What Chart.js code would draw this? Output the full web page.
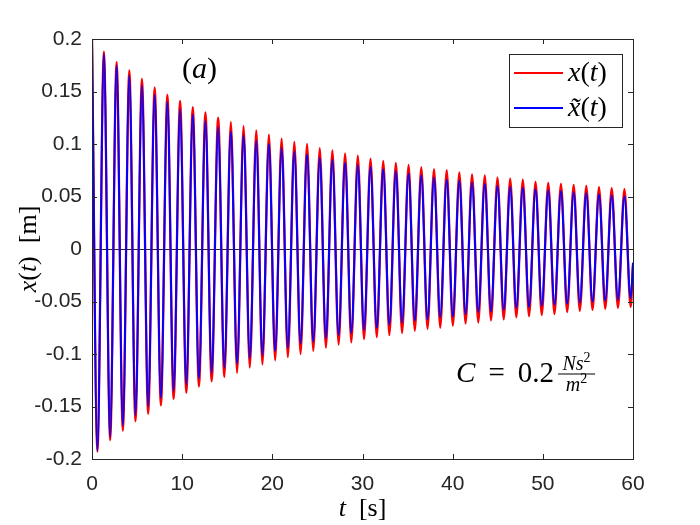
<!DOCTYPE html>
<html>
<head>
<meta charset="utf-8">
<script src="https://cdn.jsdelivr.net/npm/chart.js@4.4.1/dist/chart.umd.min.js"></script>
<style>
html, body { margin: 0; padding: 0; background: #fff; }
</style>
</head>
<body>
<canvas id="response-chart" width="700" height="525"></canvas>
<script>
// extrema (t in s, x in m)
let startTime = 0;
let startValue = 0.2;
let endTime = 60;
let endRed = -0.016;
let endBlue = -0.013;

let troughTimes = [0.60, 2.01, 3.42, 4.82, 6.23, 7.64, 9.05, 10.46, 11.86, 13.27, 14.68, 16.09, 17.50, 18.90, 20.31,
    21.72, 23.13, 24.54, 25.94, 27.35, 28.76, 30.17, 31.58, 32.98, 34.39, 35.80, 37.21, 38.62, 40.02, 41.43,
    42.84, 44.25, 45.66, 47.06, 48.47, 49.88, 51.29, 52.70, 54.10, 55.51, 56.92, 58.33, 59.74];
let peakTimes = [1.32, 2.73, 4.14, 5.54, 6.95, 8.36, 9.77, 11.18, 12.58, 13.99, 15.40, 16.81, 18.22, 19.62, 21.03,
    22.44, 23.85, 25.26, 26.66, 28.07, 29.48, 30.89, 32.30, 33.70, 35.11, 36.52, 37.93, 39.34, 40.74, 42.15,
    43.56, 44.97, 46.38, 47.78, 49.19, 50.60, 52.01, 53.42, 54.82, 56.23, 57.64, 59.05];

let redTroughs = [-0.193, -0.182, -0.173, -0.164, -0.157, -0.149, -0.143, -0.137, -0.131, -0.126, -0.122, -0.118, -0.113, -0.110, -0.106,
    -0.103, -0.100, -0.097, -0.094, -0.091, -0.089, -0.086, -0.084, -0.082, -0.080, -0.078, -0.076, -0.075, -0.073, -0.071,
    -0.070, -0.068, -0.067, -0.065, -0.064, -0.063, -0.062, -0.060, -0.059, -0.058, -0.057, -0.056, -0.055];
let redPeaks = [0.188, 0.178, 0.170, 0.162, 0.154, 0.147, 0.141, 0.135, 0.130, 0.125, 0.121, 0.117, 0.113, 0.109, 0.105,
    0.102, 0.100, 0.096, 0.094, 0.091, 0.089, 0.086, 0.084, 0.082, 0.080, 0.078, 0.076, 0.075, 0.073, 0.071,
    0.070, 0.068, 0.067, 0.066, 0.064, 0.063, 0.062, 0.061, 0.060, 0.059, 0.058, 0.057];

let blueTroughs = [-0.192, -0.179, -0.168, -0.158, -0.150, -0.142, -0.135, -0.129, -0.123, -0.118, -0.113, -0.109, -0.104, -0.101, -0.097,
    -0.094, -0.090, -0.088, -0.085, -0.082, -0.080, -0.077, -0.075, -0.072, -0.070, -0.068, -0.067, -0.065, -0.064, -0.062,
    -0.060, -0.059, -0.058, -0.056, -0.055, -0.054, -0.053, -0.052, -0.051, -0.050, -0.049, -0.048, -0.047];
let bluePeaks = [0.186, 0.175, 0.165, 0.156, 0.147, 0.140, 0.133, 0.128, 0.122, 0.116, 0.112, 0.108, 0.103, 0.100, 0.096,
    0.093, 0.090, 0.087, 0.085, 0.082, 0.080, 0.078, 0.076, 0.074, 0.072, 0.070, 0.068, 0.066, 0.065, 0.063,
    0.062, 0.060, 0.059, 0.058, 0.057, 0.056, 0.055, 0.054, 0.053, 0.052, 0.051, 0.050];

let xTicks = [0, 10, 20, 30, 40, 50, 60];
let yTicks = [-0.2, -0.15, -0.1, -0.05, 0, 0.05, 0.1, 0.15, 0.2];

let buildSeries = function (troughs, peaks, last) {
    let pts = [{x: startTime, y: startValue}];
    for (let i = 0; i < troughTimes.length; i++) {
        pts.push({x: troughTimes[i], y: troughs[i]});
        if (i < peakTimes.length) pts.push({x: peakTimes[i], y: peaks[i]});
    }
    pts.push({x: endTime, y: last});
    return pts;
};

const INK = '#262626';
const SERIF = '"Liberation Serif", "Times New Roman", serif';

// draw runs of [text, italic, size, dy] one after another
let mathWidth = function (ctx, parts, size) {
    let w = 0;
    for (let p of parts) {
        ctx.font = (p[1] ? 'italic ' : '') + (p[2] || size) + 'px ' + SERIF;
        w += ctx.measureText(p[0]).width;
    }
    return w;
};
let drawMath = function (ctx, parts, x, y, size, align) {
    let w = mathWidth(ctx, parts, size);
    let cx = align === 'center' ? x - w / 2 : x;
    ctx.textAlign = 'left';
    ctx.textBaseline = 'alphabetic';
    ctx.fillStyle = '#000';
    for (let p of parts) {
        ctx.font = (p[1] ? 'italic ' : '') + (p[2] || size) + 'px ' + SERIF;
        ctx.fillText(p[0], cx, y + (p[3] || 0));
        cx += ctx.measureText(p[0]).width;
    }
    return w;
};

let legendParts = {
    'x(t)': [['x', 1], ['(', 0], ['t', 1], [')', 0]],
    'x\u0303(t)': [['x\u0303', 1], ['(', 0], ['t', 1], [')', 0]]
};

let overlay = {
    id: 'overlay',
    afterDatasetsDraw(chart) {
        let ctx = chart.ctx;
        let a = chart.chartArea;
        let sx = chart.scales.x, sy = chart.scales.y;
        ctx.save();

        // box and inward ticks
        ctx.strokeStyle = INK;
        ctx.lineWidth = 1;
        ctx.strokeRect(Math.round(a.left) + 0.5, Math.round(a.top) + 0.5,
            Math.round(a.right - a.left), Math.round(a.bottom - a.top));
        ctx.beginPath();
        for (let t of xTicks) {
            let px = Math.round(sx.getPixelForValue(t)) + 0.5;
            ctx.moveTo(px, a.bottom); ctx.lineTo(px, a.bottom - 5);
            ctx.moveTo(px, a.top); ctx.lineTo(px, a.top + 5);
        }
        for (let t of yTicks) {
            let py = Math.round(sy.getPixelForValue(t)) + 0.5;
            ctx.moveTo(a.left, py); ctx.lineTo(a.left + 5, py);
            ctx.moveTo(a.right, py); ctx.lineTo(a.right - 5, py);
        }
        ctx.stroke();

        // legend
        let lx = 509, ly = 54, lw = 113, lh = 73;
        ctx.fillStyle = '#fff';
        ctx.fillRect(lx, ly, lw, lh);
        ctx.strokeStyle = INK;
        ctx.strokeRect(lx + 0.5, ly + 0.5, lw, lh);
        chart.data.datasets.forEach(function (ds, i) {
            let ry = 73 + i * 35;
            ctx.strokeStyle = ds.borderColor;
            ctx.lineWidth = 2;
            ctx.beginPath();
            ctx.moveTo(514, ry); ctx.lineTo(563, ry);
            ctx.stroke();
            drawMath(ctx, legendParts[ds.label], 568, ry + 8, 28);
        });

        // panel label
        drawMath(ctx, [['(', 0], ['a', 1], [')', 0]], 182, 78, 30);

        // damping coefficient
        let cw = drawMath(ctx, [['C', 1], [' \u2009=\u2009 ', 0], ['0.2', 0]], 456, 382, 29);
        let fx = 456 + cw + 4, fw = 37;
        ctx.fillStyle = '#000';
        ctx.fillRect(fx, 373.5, fw, 1);
        drawMath(ctx, [['Ns', 1, 20], ['2', 0, 14, -8]], fx + fw / 2, 370, 20, 'center');
        drawMath(ctx, [['m', 1, 20], ['2', 0, 14, -8]], fx + fw / 2, 391, 20, 'center');

        // axis titles
        drawMath(ctx, [['t', 1], ['  [s]', 0]], (a.left + a.right) / 2, 516, 26, 'center');
        ctx.translate(36, (a.top + a.bottom) / 2);
        ctx.rotate(-Math.PI / 2);
        drawMath(ctx, [['x', 1], ['(', 0], ['t', 1], [')', 0], ['  [m]', 0]], 0, 0, 26, 'center');

        ctx.restore();
    }
};

let ctx = document.getElementById('response-chart').getContext('2d');

let chart = new Chart(ctx, {
    type: 'line',
    data: {
        datasets: [{
            label: 'x(t)',
            data: buildSeries(redTroughs, redPeaks, endRed),
            borderColor: '#ff0000',
            borderWidth: 2.3,
            order: 2
        }, {
            label: 'x\u0303(t)',
            data: buildSeries(blueTroughs, bluePeaks, endBlue),
            borderColor: '#0000ff',
            borderWidth: 2,
            order: 1
        }]
    },
    options: {
        responsive: false,
        animation: false,
        devicePixelRatio: 1,
        layout: {padding: {top: 39, right: 67, left: 0, bottom: 0}},
        elements: {
            point: {radius: 0},
            line: {cubicInterpolationMode: 'monotone', fill: false}
        },
        plugins: {
            legend: {display: false},
            tooltip: {enabled: false}
        },
        scales: {
            x: {
                type: 'linear',
                min: 0,
                max: 60,
                afterFit: function (s) { s.height = 66; },
                afterBuildTicks: function (s) { s.ticks = xTicks.map(v => ({value: v})); },
                grid: {display: false},
                border: {display: false},
                ticks: {
                    padding: 5,
                    color: INK,
                    font: {family: '"Liberation Sans", Arial, sans-serif', size: 21}
                }
            },
            y: {
                type: 'linear',
                min: -0.2,
                max: 0.2,
                afterFit: function (s) { s.width = 92; },
                afterBuildTicks: function (s) { s.ticks = yTicks.map(v => ({value: v})); },
                grid: {
                    drawTicks: false,
                    lineWidth: 1,
                    color: function (c) { return c.tick && c.tick.value === 0 ? INK : 'rgba(0,0,0,0)'; }
                },
                border: {display: false},
                ticks: {
                    padding: 10,
                    color: INK,
                    font: {family: '"Liberation Sans", Arial, sans-serif', size: 21},
                    callback: function (v) { return String(Number(v.toFixed(2))); }
                }
            }
        }
    },
    plugins: [overlay]
});
</script>
</body>
</html>
